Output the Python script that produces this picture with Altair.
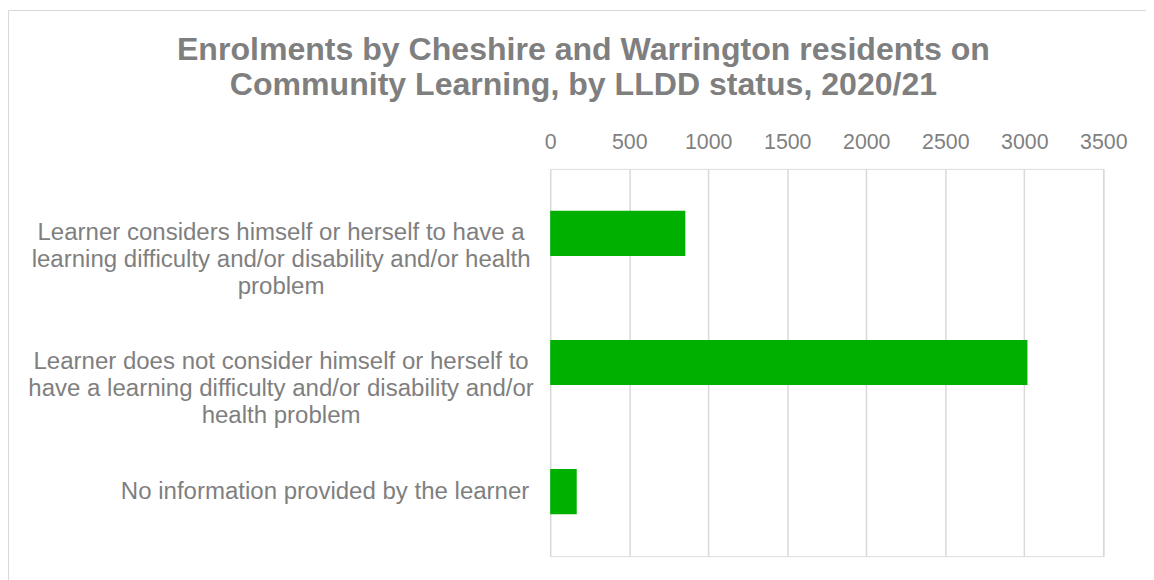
import altair as alt
import pandas as pd

categories = [
    "Learner considers himself or herself to have a|learning difficulty and/or disability and/or health|problem",
    "Learner does not consider himself or herself to|have a learning difficulty and/or disability and/or|health problem",
    "No information provided by the learner",
]
values = [855, 3020, 168]
x_ticks = [0, 500, 1000, 1500, 2000, 2500, 3000, 3500]

df = pd.DataFrame({"status": categories, "enrolments": values})

GREY = "#7f7f7f"
W, H = 557, 390

frame = alt.Chart(pd.DataFrame({"a": [0]})).mark_rect(
    fillOpacity=0, stroke="#d9d9d9", strokeWidth=1
).encode(
    x=alt.value(-545.5), x2=alt.value(700), y=alt.value(-159.5), y2=alt.value(500)
)

y_enc = alt.Y(
    "status:N", sort=categories, title=None,
    scale=alt.Scale(paddingInner=0.65, paddingOuter=0.325),
    axis=alt.Axis(domain=False, ticks=False, labels=False, grid=False),
)

bars = alt.Chart(df).mark_bar(color="#00b000").encode(
    x=alt.X(
        "enrolments:Q",
        scale=alt.Scale(domain=[0, 3500], nice=False),
        axis=alt.Axis(
            orient="top", values=x_ticks, title=None, domain=False, ticks=False,
            format="d", labelFlush=False, labelOverlap=False,
            labelFontSize=21.5, labelColor=GREY, labelFont="Liberation Sans",
            labelPadding=16, gridColor="#d9d9d9", gridWidth=1.5,
        ),
    ),
    y=y_enc,
)

label_style = dict(fontSize=24.2, font="Liberation Sans", color=GREY,
                   baseline="middle", lineBreak="|", lineHeight=27)

labels_multi = alt.Chart(df).transform_filter(
    "indexof(datum.status, '|') >= 0"
).mark_text(align="center", **label_style).encode(
    y=alt.Y("status:N", sort=categories),
    x=alt.value(-271),
    text="status:N",
)

labels_single = alt.Chart(df).transform_filter(
    "indexof(datum.status, '|') < 0"
).mark_text(align="right", **label_style).encode(
    y=alt.Y("status:N", sort=categories),
    x=alt.value(-21),
    text="status:N",
)

chart = alt.layer(frame, bars, labels_multi, labels_single).properties(
    width=W, height=H,
    title=alt.TitleParams(
        text=["Enrolments by Cheshire and Warrington residents on",
              "Community Learning, by LLDD status, 2020/21"],
        fontSize=32.3, font="Liberation Sans", fontWeight="bold", color=GREY,
        anchor="middle", dx=-245, dy=92, lineHeight=35, offset=0,
    ),
    autosize=alt.AutoSizeParams(type="none"),
    padding={"left": 546, "top": 160, "right": 43, "bottom": 22},
).configure_view(stroke=None).configure(background="white")

chart.save("out.html", embed_options={"renderer": "svg", "actions": False})
